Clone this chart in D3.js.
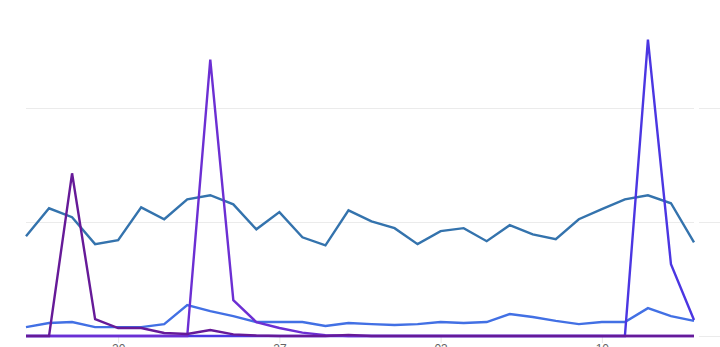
<!DOCTYPE html>
<html>
<head>
<meta charset="utf-8">
<script src="https://cdn.jsdelivr.net/npm/d3@7"></script>
<style>
  body { margin: 0; background: #fff; }
  svg { display: block; font-family: "Roboto", "Noto Sans", sans-serif; }
</style>
</head>
<body>
<div id="chart"></div>
<script>
// daily points, 30 days
var startDate = new Date(Date.UTC(2019, 0, 16));
var tickDates = ["2019-01-20", "2019-01-27", "2019-02-03", "2019-02-10"];
var gridValues = [0, 50, 100];

var seriesA = [43.7, 55.9, 52.0, 40.2, 41.9, 56.3, 51.1, 59.8, 61.6, 57.6,
               46.7, 54.2, 43.2, 39.7, 55.0, 50.2, 47.2, 40.2, 45.9, 47.2,
               41.5, 48.5, 44.5, 42.4, 51.1, 55.5, 59.8, 61.6, 58.1, 41.0];
var seriesB = [3.9, 5.7, 6.1, 3.9, 3.9, 3.9, 5.2, 13.5, 10.9, 8.7,
               6.1, 6.1, 6.1, 4.4, 5.7, 5.2, 4.8, 5.2, 6.1, 5.7,
               6.1, 9.6, 8.3, 6.6, 5.2, 6.1, 6.1, 12.2, 8.7, 6.6];
var seriesC = [0, 0, 0, 0, 0, 0, 0, 0, 121, 15.7,
               6.1, 3.5, 1.5, 0.4, 0, 0, 0, 0, 0, 0,
               0, 0, 0, 0, 0, 0, 0, 0, 0, 0];
var seriesD = [0, 0, 71.2, 7.4, 3.5, 3.5, 1.3, 0.9, 2.6, 0.7,
               0.2, 0, 0, 0, 0.5, 0, 0, 0, 0, 0,
               0, 0, 0, 0, 0, 0, 0, 0, 0, 0];
var seriesE = [0, 0, 0, 0, 0, 0, 0, 0, 0, 0,
               0, 0, 0, 0, 0, 0, 0, 0, 0, 0,
               0, 0, 0, 0, 0, 0, 0, 129.7, 31.4, 7.0];

var series = [
    { name: "A", values: seriesA, color: "#3473ad" },
    { name: "B", values: seriesB, color: "#4270e4" },
    { name: "E", values: seriesE, color: "#4b36e2" },
    { name: "C", values: seriesC, color: "#6c2fd3" },
    { name: "D", values: seriesD, color: "#661a98" }
];

var width = 720, height = 347;
var svg = d3.select("#chart").append("svg")
    .attr("width", width).attr("height", height);

var dayMs = 24 * 3600 * 1000;
var endDate = new Date(startDate.getTime() + 29 * dayMs);

var x = d3.scaleUtc().domain([startDate, endDate]).range([26, 694]);
var y = d3.scaleLinear().domain([0, 100]).range([336, 107.5]);

// gridlines
var grid = svg.append("g");
grid.selectAll("line.main")
    .data(gridValues)
    .enter().append("line")
    .attr("class", "main")
    .attr("x1", 26).attr("x2", 694)
    .attr("y1", function(d) { return Math.round(y(d)) + 0.5; })
    .attr("y2", function(d) { return Math.round(y(d)) + 0.5; })
    .attr("stroke", "#ebebeb");
// little bit of the next panel on the right
grid.selectAll("line.side")
    .data(gridValues)
    .enter().append("line")
    .attr("class", "side")
    .attr("x1", 699).attr("x2", 720)
    .attr("y1", function(d) { return Math.round(y(d)) + 0.5; })
    .attr("y2", function(d) { return Math.round(y(d)) + 0.5; })
    .attr("stroke", "#ebebeb");

// x axis (labels run off the bottom edge, like the source)
var parse = d3.utcParse("%Y-%m-%d");
var xAxis = d3.axisBottom(x)
    .tickValues(tickDates.map(parse))
    .tickFormat(d3.utcFormat("%d"))
    .tickSize(6)
    .tickPadding(1);

var ax = svg.append("g")
    .attr("transform", "translate(0,337)")
    .call(xAxis);
ax.select(".domain").remove();
ax.selectAll(".tick line").attr("stroke", "#e6e6e6");
ax.selectAll(".tick text")
    .attr("fill", "#666")
    .attr("font-size", "12px");

var line = d3.line()
    .x(function(d, i) { return x(new Date(startDate.getTime() + i * dayMs)); })
    .y(function(d) { return y(d); });

svg.append("g")
    .selectAll("path")
    .data(series)
    .enter().append("path")
    .attr("fill", "none")
    .attr("stroke", function(d) { return d.color; })
    .attr("stroke-width", 2.4)
    .attr("stroke-linejoin", "miter")
    .attr("d", function(d) { return line(d.values); });
</script>
</body>
</html>
